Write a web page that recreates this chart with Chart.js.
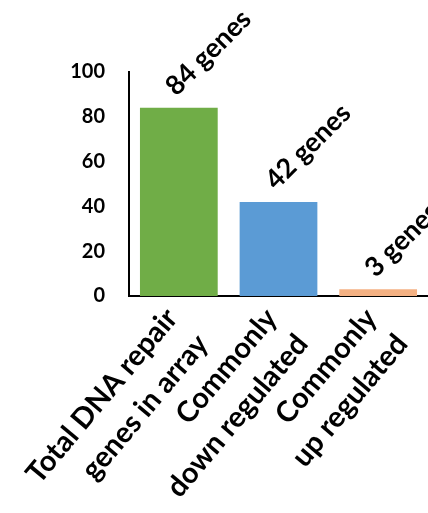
<!DOCTYPE html>
<html>
<head>
<meta charset="utf-8">
<script src="https://cdn.jsdelivr.net/npm/chart.js@4.4.1/dist/chart.umd.min.js"></script>
<style>
  html, body { margin: 0; padding: 0; background: #fff; overflow: hidden; }
  #wrap { position: relative; width: 428px; height: 513px; }
</style>
</head>
<body>
<div id="wrap"><canvas id="genesChart"></canvas></div>
<script>
// Chart data
const categories = [
  ['Total DNA repair', 'genes in array'],
  ['Commonly', 'down regulated'],
  ['Commonly', 'up regulated']
];
const geneCounts = [84, 42, 3];
const valueLabels = ['84 genes', '42 genes', '3 genes'];
const yTicks = [0, 20, 40, 60, 80, 100];

const FONT = 'Lato';

// Rotated category labels under the axis
const categoryLabels = {
  id: 'categoryLabels',
  afterDraw(chart) {
    const ctx = chart.ctx;
    const x = chart.scales.x;
    const base = chart.chartArea.bottom;
    ctx.save();
    ctx.fillStyle = '#000';
    ctx.font = 'bold 29px ' + FONT;
    ctx.textAlign = 'right';
    ctx.textBaseline = 'middle';
    categories.forEach((lines, i) => {
      const px = x.getPixelForValue(i);
      ctx.save();
      ctx.translate(px - 7, base + 17);
      ctx.rotate(-50 * Math.PI / 180);
      lines.forEach((line, j) => ctx.fillText(line, 0, j * 40));
      ctx.restore();
    });
    ctx.restore();
  }
};

// "NN genes" labels above each bar
const barLabels = {
  id: 'barLabels',
  afterDatasetsDraw(chart) {
    const ctx = chart.ctx;
    const meta = chart.getDatasetMeta(0);
    ctx.save();
    ctx.fillStyle = '#000';
    ctx.font = 'bold 27px ' + FONT;
    ctx.textAlign = 'left';
    ctx.textBaseline = 'middle';
    meta.data.forEach((bar, i) => {
      ctx.save();
      ctx.translate(bar.x, bar.y);
      ctx.rotate(-Math.PI / 4);
      ctx.fillText(valueLabels[i], 6, -18);
      ctx.restore();
    });
    ctx.restore();
  }
};

const ctx = document.getElementById('genesChart').getContext('2d');
new Chart(ctx, {
  type: 'bar',
  data: {
    labels: categories,
    datasets: [{
      data: geneCounts,
      backgroundColor: ['#70AD47', '#5B9BD5', '#F4B183'],
      borderWidth: 0,
      barPercentage: 0.78,
      categoryPercentage: 1.0
    }]
  },
  options: {
    responsive: true,
    maintainAspectRatio: false,
    animation: false,
    layout: { padding: { top: 72, left: 0, right: 0, bottom: 0 } },
    plugins: {
      legend: { display: false },
      tooltip: { enabled: false }
    },
    scales: {
      x: {
        grid: { display: false, drawTicks: false },
        border: { display: true, color: '#000', width: 2 },
        ticks: { display: false },
        afterFit: (scale) => { scale.height = 217; }
      },
      y: {
        min: yTicks[0],
        max: yTicks[yTicks.length - 1],
        grid: { display: false, drawTicks: false },
        border: { display: true, color: '#000', width: 2 },
        ticks: {
          stepSize: yTicks[1] - yTicks[0],
          padding: 24,
          color: '#000',
          font: { family: FONT, size: 20, weight: 'bold' }
        },
        afterFit: (scale) => { scale.width = 129; }
      }
    }
  },
  plugins: [categoryLabels, barLabels]
});
</script>
</body>
</html>
